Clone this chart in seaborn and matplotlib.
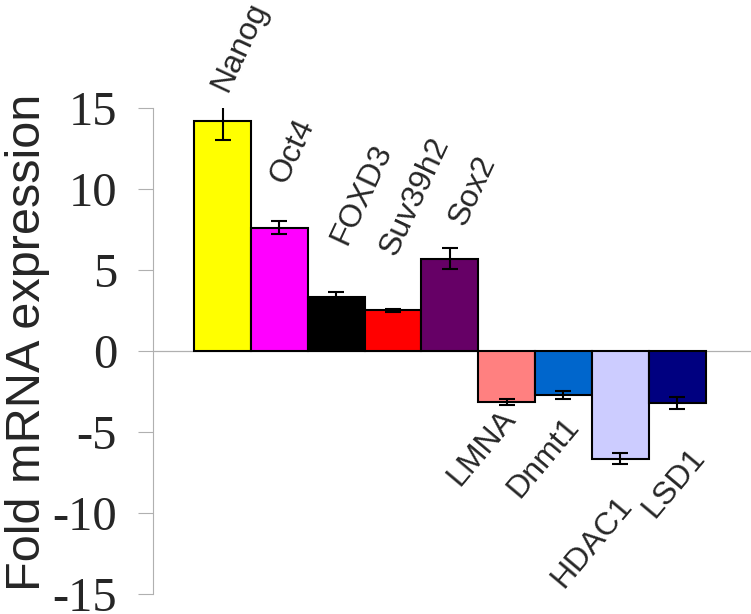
import numpy as np
import pandas as pd
import seaborn as sns
import matplotlib
matplotlib.use("Agg")
import matplotlib.pyplot as plt

# values
genes = ["Nanog", "Oct4", "FOXD3", "Suv39h2", "Sox2", "LMNA", "Dnmt1", "HDAC1", "LSD1"]
fold_change = [14.2, 7.6, 3.35, 2.5, 5.7, -3.15, -2.7, -6.65, -3.2]
errors = [1.2, 0.4, 0.3, 0.12, 0.65, 0.2, 0.25, 0.35, 0.35]
bar_colors = ["#FFFF00", "#FF00FF", "#000000", "#FF0000", "#660066",
              "#FF8080", "#0066CC", "#CCCCFF", "#000080"]

# hand placed gene labels (data units), as in the original figure
label_x_shift = [0.08, 0.10, 0.18, 0.04, 0.25, 0.18, 0.30, 0.22, 0.5]
label_y = [15.95, 10.25, 6.5, 5.8, 7.65, -4.2, -4.7, -9.55, -6.6]

df = pd.DataFrame({"gene": genes, "fold": fold_change})

sns.set_style("white")
plt.rcParams["font.family"] = ["Liberation Sans", "DejaVu Sans"]

fig = plt.figure(figsize=(7.51, 6.14), dpi=100)
ax = fig.add_axes([0.204, 0.0326, 0.796, 0.7915])

sns.barplot(data=df, x="gene", y="fold", hue="gene", palette=bar_colors,
            width=1.0, edgecolor="black", linewidth=1.5, legend=False,
            saturation=1, ax=ax)
ax.errorbar(np.arange(len(genes)), fold_change, yerr=errors, fmt="none",
            ecolor="black", elinewidth=1.5, capsize=6, capthick=1.5, zorder=5)

ax.axhline(0, color="#b0b0b0", linewidth=0.9, zorder=0)

ax.set_xlim(-1.22, 9.3)
ax.set_ylim(-15, 15)
ax.set_yticks([15, 10, 5, 0, -5, -10, -15])
ax.set_yticklabels(["15", "10", "5", "0", "-5", "-10", "-15"],
                   fontfamily="Liberation Serif", fontsize=35)
ax.tick_params(axis="y", direction="out", length=11, width=0.8,
               color="#b0b0b0", pad=15, left=True)
ax.set_xticks([])
ax.set_xlabel("")
ax.set_ylabel("")

for s in ["top", "right", "bottom"]:
    ax.spines[s].set_visible(False)
ax.spines["left"].set_color("#b0b0b0")
ax.spines["left"].set_linewidth(0.8)

for i, g in enumerate(genes):
    if fold_change[i] >= 0:
        ax.text(i + label_x_shift[i], label_y[i], g, rotation=65,
                rotation_mode="anchor", ha="left", va="baseline",
                fontsize=23, clip_on=False)
    else:
        ax.text(i + label_x_shift[i], label_y[i], g, rotation=50,
                rotation_mode="anchor", ha="right", va="baseline",
                fontsize=23, clip_on=False)

fig.text(0.007, 0.443, "Fold mRNA expression", rotation=90,
         ha="left", va="center", fontsize=35)

fig.savefig("out.png", dpi=100)
